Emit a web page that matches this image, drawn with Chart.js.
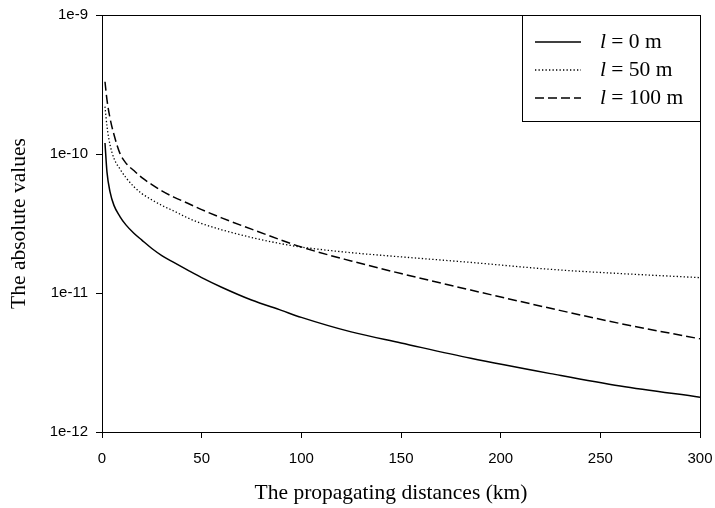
<!DOCTYPE html>
<html>
<head>
<meta charset="utf-8">
<script src="https://cdn.jsdelivr.net/npm/chart.js@4.4.1/dist/chart.umd.min.js"></script>
<style>
  html, body { margin: 0; padding: 0; background: #fff; }
  #chart { display: block; }
</style>
</head>
<body>
<canvas id="chart" width="715" height="508"></canvas>
<script>
// ---- data ----
const distances = [1.5, 2.5, 4, 6, 9, 12, 16, 20, 25, 30, 36, 43, 50, 60, 75, 90, 100, 125, 150, 185, 225, 260, 300];
const seriesL0 = [1.20e-10, 7.4e-11, 5.37e-11, 4.27e-11, 3.55e-11, 3.09e-11, 2.69e-11, 2.40e-11, 2.09e-11, 1.86e-11, 1.66e-11, 1.46e-11,
  1.29e-11, 1.10e-11, 8.9e-12, 7.5e-12, 6.68e-12, 5.25e-12, 4.37e-12, 3.39e-12, 2.63e-12, 2.14e-12, 1.78e-12];
const seriesL50 = [2.19e-10, 1.58e-10, 1.17e-10, 9.3e-11, 7.8e-11, 6.76e-11, 5.82e-11, 5.19e-11, 4.68e-11, 4.27e-11, 3.89e-11, 3.47e-11,
  3.16e-11, 2.85e-11, 2.51e-11, 2.26e-11, 2.14e-11, 1.95e-11, 1.82e-11, 1.66e-11, 1.48e-11, 1.38e-11, 1.29e-11];
const seriesL100 = [3.31e-10, 2.45e-10, 1.82e-10, 1.38e-10, 1.01e-10, 8.6e-11, 7.6e-11, 6.76e-11, 6.03e-11, 5.43e-11, 4.9e-11, 4.42e-11,
  3.98e-11, 3.47e-11, 2.88e-11, 2.4e-11, 2.14e-11, 1.70e-11, 1.38e-11, 1.05e-11, 7.76e-12, 6.03e-12, 4.68e-12];
const seriesNames = ['0 m', '50 m', '100 m'];
const xTicks = [0, 50, 100, 150, 200, 250, 300];
const yTicks = [1e-12, 1e-11, 1e-10, 1e-9];

const xTitle = 'The propagating distances (km)';
const yTitle = 'The absolute values';

const SERIF = '"Liberation Serif", "Times New Roman", serif';
const SANS = '"Liberation Sans", Arial, sans-serif';

function toPoints(ys) {
  return distances.map((d, i) => ({ x: d, y: ys[i] }));
}

// frame, axis titles and the boxed legend
const decorations = {
  id: 'decorations',
  afterDraw(chart) {
    const { ctx, chartArea: a } = chart;
    ctx.save();
    ctx.strokeStyle = '#000';
    ctx.lineWidth = 1;
    ctx.strokeRect(a.left + 0.5, a.top + 0.5, a.right - a.left, a.bottom - a.top);

    // axis titles
    ctx.fillStyle = '#000';
    ctx.font = '21.5px ' + SERIF;
    ctx.textAlign = 'center';
    ctx.textBaseline = 'middle';
    ctx.fillText(xTitle, (a.left + a.right) / 2 - 10, 493);
    ctx.translate(19, (a.top + a.bottom) / 2);
    ctx.rotate(-Math.PI / 2);
    ctx.fillText(yTitle, 0, 0);
    ctx.restore();

    // legend box
    ctx.save();
    const bw = 178, bh = 106;
    const bx = a.right - bw, by = a.top;
    ctx.fillStyle = '#fff';
    ctx.fillRect(bx, by, bw, bh);
    ctx.strokeStyle = '#000';
    ctx.lineWidth = 1;
    ctx.strokeRect(bx + 0.5, by + 0.5, bw, bh);
    chart.data.datasets.forEach((ds, i) => {
      const y = by + 27 + i * 28;
      ctx.beginPath();
      ctx.setLineDash(ds.borderDash || []);
      ctx.lineWidth = ds.borderWidth;
      ctx.strokeStyle = '#000';
      ctx.moveTo(bx + 13, y);
      ctx.lineTo(bx + 59, y);
      ctx.stroke();
      ctx.setLineDash([]);
      ctx.fillStyle = '#000';
      ctx.textBaseline = 'middle';
      ctx.textAlign = 'left';
      ctx.font = 'italic 21.5px ' + SERIF;
      const tx = bx + 78;
      ctx.fillText('l', tx, y);
      const lw = ctx.measureText('l').width;
      ctx.font = '21.5px ' + SERIF;
      ctx.fillText(' = ' + seriesNames[i], tx + lw, y);
    });
    ctx.restore();
  }
};

new Chart(document.getElementById('chart'), {
  type: 'line',
  data: {
    datasets: [
      { label: 'l = ' + seriesNames[0], data: toPoints(seriesL0), borderColor: '#000', borderWidth: 1.5, borderDash: [] },
      { label: 'l = ' + seriesNames[1], data: toPoints(seriesL50), borderColor: '#000', borderWidth: 1.3, borderDash: [1.3, 2.2] },
      { label: 'l = ' + seriesNames[2], data: toPoints(seriesL100), borderColor: '#000', borderWidth: 1.5, borderDash: [9, 4] }
    ]
  },
  options: {
    responsive: false,
    animation: false,
    cubicInterpolationMode: 'monotone',
    elements: { point: { radius: 0 }, line: { fill: false } },
    layout: { padding: { top: 15, right: 15, left: 0, bottom: 0 } },
    plugins: { legend: { display: false }, tooltip: { enabled: false } },
    scales: {
      x: {
        type: 'linear',
        min: 0,
        max: 300,
        afterFit: s => { s.height = 76; s.paddingLeft = 0; s.paddingRight = 0; },
        afterBuildTicks: s => { s.ticks = xTicks.map(v => ({ value: v })); },
        grid: { drawOnChartArea: false, drawTicks: true, tickLength: 6, color: '#000' },
        border: { display: true, color: '#000', width: 1 },
        ticks: { color: '#000', font: { family: SANS, size: 15 }, padding: 12, maxRotation: 0 }
      },
      y: {
        type: 'logarithmic',
        min: 1e-12,
        max: 1e-9,
        afterFit: s => { s.width = 102; s.paddingTop = 0; s.paddingBottom = 0; },
        afterBuildTicks: s => { s.ticks = yTicks.map(v => ({ value: v })); },
        grid: { drawOnChartArea: false, drawTicks: true, tickLength: 6, color: '#000' },
        border: { display: true, color: '#000', width: 1 },
        ticks: {
          color: '#000',
          font: { family: SANS, size: 15 },
          padding: 8,
          callback: v => Number(v).toExponential(0)
        }
      }
    }
  },
  plugins: [decorations]
});
</script>
</body>
</html>
